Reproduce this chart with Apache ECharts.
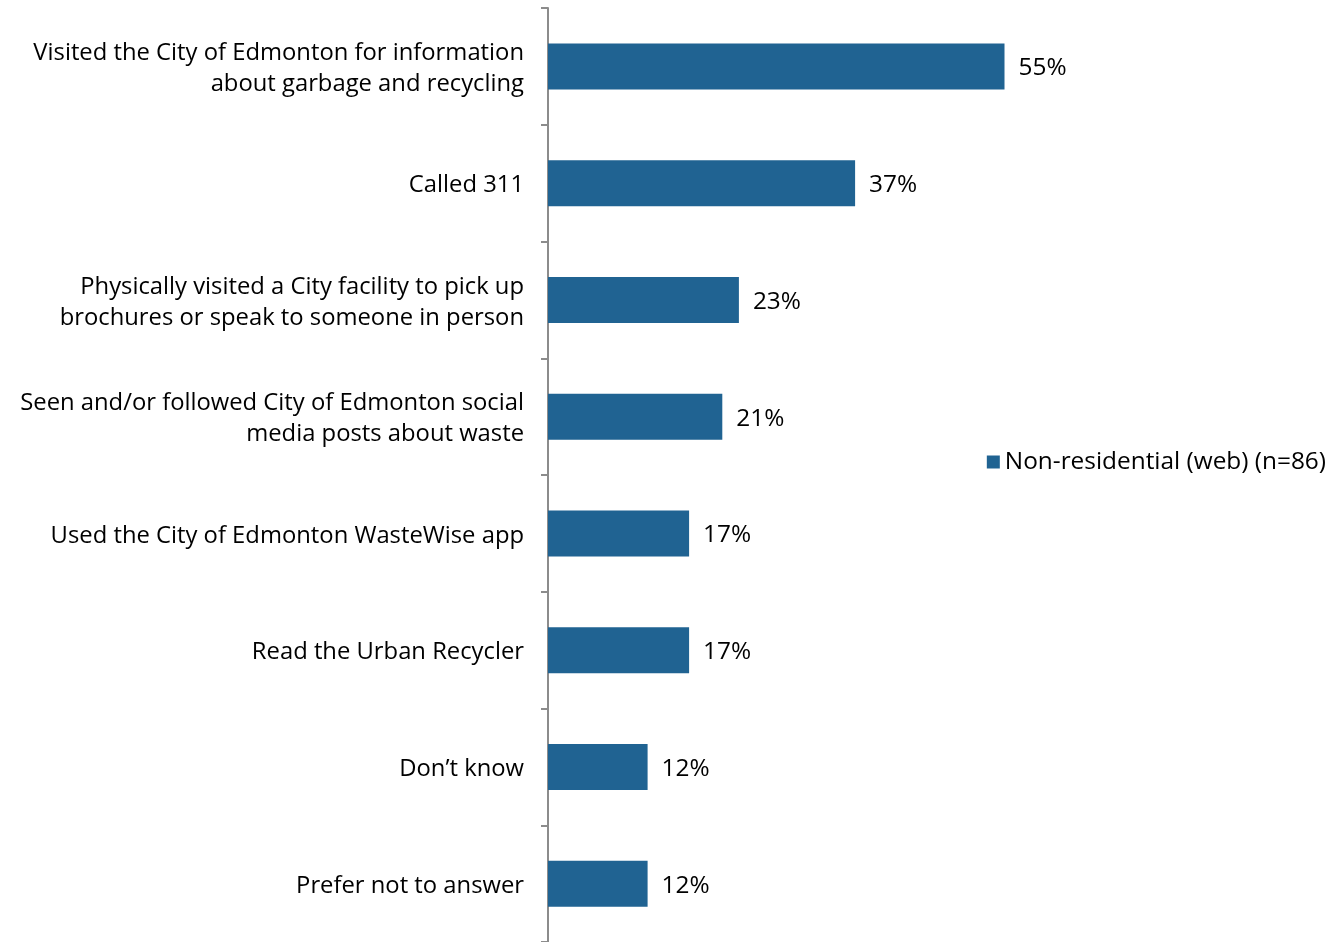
<!DOCTYPE html>
<html><head><meta charset="utf-8">
<script src="https://cdn.jsdelivr.net/npm/echarts@6/dist/echarts.min.js"></script>
<style>html,body{margin:0;padding:0;background:#fff}#c{width:1332px;height:942px}</style>
</head><body><div id="c"></div>
<script>
const categories = [
  "Visited the City of Edmonton for information\nabout garbage and recycling",
  "Called 311",
  "Physically visited a City facility to pick up\nbrochures or speak to someone in person",
  "Seen and/or followed City of Edmonton social\nmedia posts about waste",
  "Used the City of Edmonton WasteWise app",
  "Read the Urban Recycler",
  "Don\u2019t know",
  "Prefer not to answer"
];
const values = [55, 37, 23, 21, 17, 17, 12, 12];
const seriesName = "Non-residential (web) (n=86)";
const FONT = "Open Sans";

const chart = echarts.init(document.getElementById('c'));
chart.setOption({
  animation: false,
  textStyle: { fontFamily: FONT },
  grid: { left: 548, top: 8, width: 498, height: 936, containLabel: false },
  legend: {
    data: [seriesName],
    right: 1, top: 445,
    icon: 'rect', itemWidth: 13, itemHeight: 13, itemGap: 7,
    textStyle: { fontFamily: FONT, fontSize: 24.4, color: '#000' }
  },
  xAxis: { type: 'value', min: 0, max: 60, show: false },
  yAxis: {
    type: 'category', inverse: true, data: categories,
    axisLine: { show: true, lineStyle: { color: '#8c8c8c', width: 2 } },
    axisTick: { show: true, length: 7, lineStyle: { color: '#8c8c8c', width: 2 } },
    axisLabel: {
      margin: 24, align: 'right', color: '#000',
      formatter: v => '{s| }\n' + v.split('\n').map(l => '{t|' + l + '}').join('\n'),
      rich: {
        s: { fontSize: 5, lineHeight: 5 },
        t: { fontFamily: FONT, fontSize: 23.8, lineHeight: 31, color: '#000' }
      }
    },
    splitLine: { show: false }
  },
  series: [{
    name: seriesName, type: 'bar', data: values, barWidth: 46,
    itemStyle: { color: '#206392' },
    label: { show: true, position: 'right', distance: 14, offset: [0, 2], formatter: '{c}%', fontFamily: FONT, fontSize: 24.4, color: '#000' }
  }]
});
</script></body></html>
